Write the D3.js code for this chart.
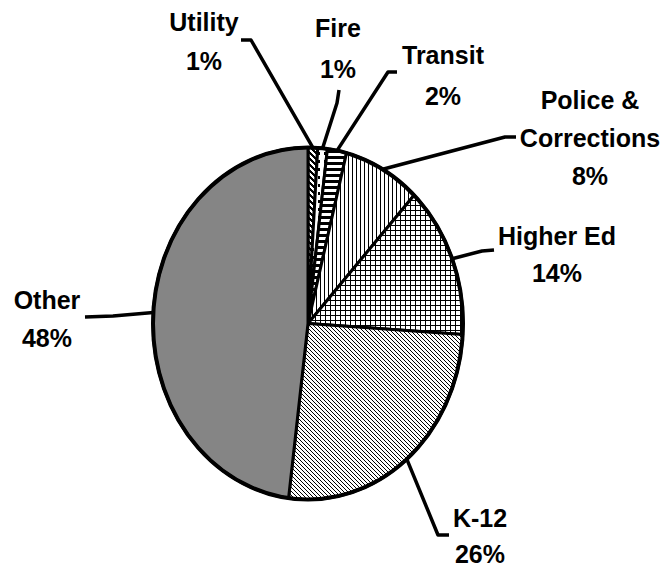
<!DOCTYPE html>
<html>
<head>
<meta charset="utf-8">
<script src="https://cdn.jsdelivr.net/npm/d3@7"></script>
<style>
  html, body { margin: 0; padding: 0; background: #fff; }
  svg { display: block; }
  text { font-family: "Liberation Sans", Arial, sans-serif; font-weight: bold; font-size: 25px; fill: #000; }
</style>
</head>
<body>
<div id="chart"></div>
<script>
// slices, clockwise from 12 o'clock
var categories = ["Utility", "Fire", "Transit", "Police & Corrections", "Higher Ed", "K-12", "Other"];
var shares = [1, 1, 2, 8, 14, 26, 48];
var labelNames = [["Utility"], ["Fire"], ["Transit"], ["Police &", "Corrections"], ["Higher Ed"], ["K-12"], ["Other"]];

var width = 668, height = 573;
var cx = 308, cy = 323.5, rx = 155, ry = 176;

// where each label sits and how its leader bends (layout only)
var labelLayout = [
  { x: 204, y: 31,  gap: 39, leader: [[251, 40], [241, 40]] },
  { x: 338, y: 37,  gap: 41, leader: [[337, 103], [339, 90]] },
  { x: 443, y: 64,  gap: 41, leader: [[388, 72], [397, 72]] },
  { x: 590, y: 109, gap: 38, leader: [[505, 137], [516, 137]] },
  { x: 557, y: 245, gap: 37, leader: [[482, 251], [494, 250]] },
  { x: 480, y: 527, gap: 36, leader: [[438, 535], [449, 535]] },
  { x: 47,  y: 309, gap: 38, leader: [[113, 316], [85, 317]] }
];

var svg = d3.select('#chart')
  .append('svg')
  .attr('width', width)
  .attr('height', height);

var defs = svg.append('defs');

function pattern(id, w, h) {
  var p = defs.append('pattern')
    .attr('id', id)
    .attr('patternUnits', 'userSpaceOnUse')
    .attr('width', w)
    .attr('height', h);
  p.append('rect').attr('width', w).attr('height', h).attr('fill', '#fff');
  return p;
}
function px(p, x, y, w, h) {
  p.append('rect').attr('x', x).attr('y', y).attr('width', w).attr('height', h)
    .attr('fill', '#000').attr('shape-rendering', 'crispEdges');
}

// K-12: thin backslash hatching
var pK12 = pattern('p-k12', 4, 4);
[0, 1, 2, 3].forEach(function (i) { px(pK12, i, i, 1, 1); });

// Higher Ed: small grid
var pHigh = pattern('p-high', 5, 5);
px(pHigh, 0, 0, 5, 1); px(pHigh, 0, 0, 1, 5);

// Police: vertical lines
var pPol = pattern('p-pol', 4, 4);
px(pPol, 0, 0, 1, 4);

// Transit: heavy horizontal lines
var pTr = pattern('p-tr', 6, 6);
px(pTr, 0, 0, 6, 3);

// Fire: sparse blocks
var pFire = pattern('p-fire', 6, 8);
px(pFire, 0, 0, 2, 3);

// Utility: wide backslash stripes
var pUt = pattern('p-ut', 6, 6);
[0, 1, 2, 3, 4, 5].forEach(function (i) { px(pUt, i, i, 1, 1); px(pUt, (i + 1) % 6, i, 1, 1); px(pUt, (i + 2) % 6, i, 1, 1); });

// Other is a fine dither in the original; it reads as mid grey
var fills = ['url(#p-ut)', 'url(#p-fire)', 'url(#p-tr)', 'url(#p-pol)', 'url(#p-high)', 'url(#p-k12)', '#858585'];

var xScale = d3.scaleLinear().domain([-1, 1]).range([cx - rx, cx + rx]);
var yScale = d3.scaleLinear().domain([-1, 1]).range([cy + ry, cy - ry]);
function edge(a) { return [xScale(Math.sin(a)), yScale(Math.cos(a))]; }

var arcs = d3.pie().sort(null).value(function (d) { return d; })(shares);

var line = d3.line();
function slicePath(d) {
  var n = Math.max(4, Math.ceil((d.endAngle - d.startAngle) / 0.01));
  var pts = [[cx, cy]];
  d3.range(n + 1).forEach(function (i) {
    pts.push(edge(d.startAngle + (d.endAngle - d.startAngle) * i / n));
  });
  return line(pts) + 'Z';
}

svg.selectAll('path.slice').data(arcs)
  .enter().append('path')
  .attr('class', 'slice')
  .attr('d', slicePath)
  .attr('fill', function (d, i) { return fills[i]; })
  .attr('stroke', '#000')
  .attr('stroke-width', 3)
  .attr('stroke-linejoin', 'round');

svg.append('ellipse')
  .attr('cx', cx).attr('cy', cy).attr('rx', rx).attr('ry', ry)
  .attr('fill', 'none').attr('stroke', '#000').attr('stroke-width', 4);

// leader lines
svg.selectAll('path.leader').data(arcs)
  .enter().append('path')
  .attr('class', 'leader')
  .attr('d', function (d, i) {
    var m = edge((d.startAngle + d.endAngle) / 2);
    return line([m].concat(labelLayout[i].leader));
  })
  .attr('fill', 'none')
  .attr('stroke', '#000')
  .attr('stroke-width', 3.5)
  .attr('stroke-linejoin', 'round');

// labels
var labels = svg.selectAll('text.label').data(arcs)
  .enter().append('text')
  .attr('class', 'label')
  .attr('text-anchor', 'middle');

labels.each(function (d, i) {
  var t = d3.select(this), L = labelLayout[i];
  var lines = labelNames[i].concat([shares[i] + '%']);
  lines.forEach(function (s, k) {
    t.append('tspan').attr('x', L.x).attr('y', L.y + k * L.gap).text(s);
  });
});
</script>
</body>
</html>
